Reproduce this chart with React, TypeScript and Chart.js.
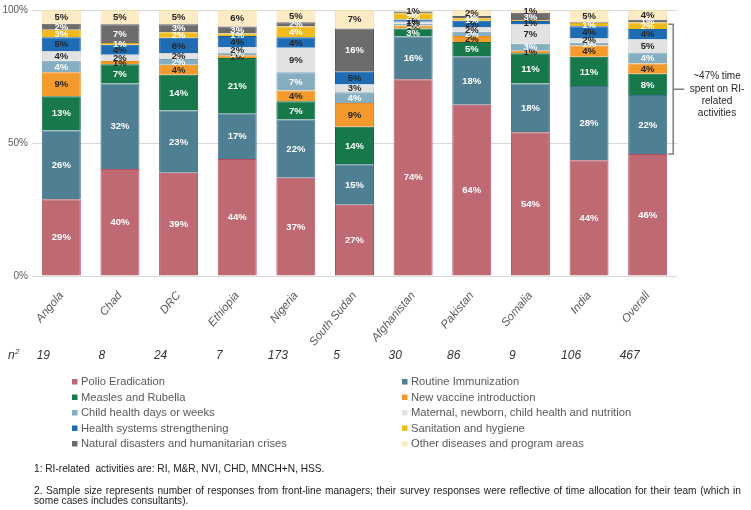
import React, { useEffect, useRef } from "react";
import { Chart, registerables } from "chart.js";
Chart.register(...registerables);

const categories = ["Angola", "Chad", "DRC", "Ethiopia", "Nigeria", "South Sudan", "Afghanistan", "Pakistan", "Somalia", "India", "Overall"];
const sampleSizes = [19, 8, 24, 7, 173, 5, 30, 86, 9, 106, 467];

const polio = [28.9, 40.2, 38.8, 44, 36.9, 26.8, 74, 64.4, 54, 43.5, 45.9];
const routineImm = [25.8, 32.2, 23.4, 17.2, 21.9, 15.2, 16, 18.2, 18.4, 27.9, 22.1];
const measles = [12.9, 7.2, 13.5, 20.8, 6.9, 14.1, 3, 5.4, 11.3, 11, 8];
const newVaccine = [9, 1.2, 3.7, 1, 4.0, 8.9, 1.2, 2.2, 1.0, 4.3, 3.9];
const childHealthDays = [4.3, 0, 2.2, 1, 6.9, 4.1, 0.6, 1.6, 2.6, 1, 4.1];
const mnch = [3.7, 2.4, 2.2, 2, 9.2, 2.9, 0.8, 1.8, 7.4, 1.8, 4.9];
const hss = [5.2, 3.7, 5.8, 4.2, 4.0, 4.8, 0.8, 2.4, 1.2, 4.4, 4];
const sanitation = [2.8, 0.7, 2.0, 1, 4.0, 0, 2.4, 0.9, 0.3, 1.2, 2.4];
const disasters = [2.2, 7, 3, 2.6, 1.6, 16.2, 0.6, 0.8, 2.8, 0.3, 1.0];
const otherAreas = [5.2, 5.4, 5.4, 6.2, 4.6, 7, 0.6, 2.3, 1.0, 4.6, 3.7];

const seriesNames = [
  "Polio Eradication",
  "Routine Immunization",
  "Measles and Rubella",
  "New vaccine introduction",
  "Child health days or weeks",
  "Maternal, newborn, child health and nutrition",
  "Health systems strengthening",
  "Sanitation and hygiene",
  "Natural disasters and humanitarian crises",
  "Other diseases and program areas",
];
const seriesData = [polio, routineImm, measles, newVaccine, childHealthDays, mnch, hss, sanitation, disasters, otherAreas];
const seriesColors = ["#bf6a73", "#4f7f93", "#17784a", "#f49a2c", "#86aec1", "#e2e2e2", "#1d6cb4", "#f0bb18", "#6e6b6b", "#fcebc4"];
const seriesBorders = ["#b34e5e", "#3c7189", "#136a40", "#e98a1c", "#76a0b4", "#d4d4d4", "#185fa0", "#e0ac10", "#5e5b5b", "#f3deb0"];
const seriesLabelColors = ["#ffffff", "#ffffff", "#ffffff", "#262626", "#ffffff", "#262626", "#262626", "#ffffff", "#ffffff", "#262626"];

const bracketRange = [45.9, 94.6];
const bracketText = ["~47% time", "spent on RI-", "related", "activities"];
const footnote1 = "1: RI-related  activities are: RI, M&R, NVI, CHD, MNCH+N, HSS.";
const footnote2a = "2. Sample size represents number of responses from front-line managers; their survey responses were reflective of time allocation for their team (which in";
const footnote2b = "some cases includes consultants).";

const FONT = "'Liberation Sans', Arial, sans-serif";

const overlayPlugin = {
  id: "overlay",
  afterDatasetsDraw(chart: any) {
    const ctx = chart.ctx;
    ctx.save();
    ctx.font = `bold 9.5px ${FONT}`;
    ctx.textAlign = "center";
    ctx.textBaseline = "middle";
    chart.data.datasets.forEach((ds: any, di: number) => {
      const meta = chart.getDatasetMeta(di);
      meta.data.forEach((el: any, i: number) => {
        const v = ds.data[i];
        if (v < 0.5) return;
        const y = (el.y + el.base) / 2;
        ctx.fillStyle = seriesLabelColors[di];
        ctx.fillText(Math.round(v) + "%", el.x, y + 0.5);
      });
    });
    ctx.restore();
  },
  afterDraw(chart: any) {
    const ctx = chart.ctx;
    const xs = chart.scales.x;
    const ys = chart.scales.y;
    ctx.save();

    // bracket on the last bar
    const last = categories.length - 1;
    const el = chart.getDatasetMeta(0).data[last];
    const right = el.x + el.width / 2;
    const yTop = ys.getPixelForValue(bracketRange[1]);
    const yBot = ys.getPixelForValue(bracketRange[0]);
    const vx = right + 6;
    ctx.strokeStyle = "#7f7f7f";
    ctx.lineWidth = 1.5;
    ctx.beginPath();
    ctx.moveTo(right + 1, yTop);
    ctx.lineTo(vx, yTop);
    ctx.lineTo(vx, yBot);
    ctx.lineTo(right + 1, yBot);
    ctx.moveTo(vx, (yTop + yBot) / 2);
    ctx.lineTo(vx + 11, (yTop + yBot) / 2);
    ctx.stroke();
    ctx.fillStyle = "#262626";
    ctx.font = `10px ${FONT}`;
    ctx.textAlign = "center";
    ctx.textBaseline = "middle";
    const mid = (yTop + yBot) / 2;
    bracketText.forEach((t, i) => {
      ctx.fillText(t, 717, mid - 12.5 + i * 12.3);
    });

    // sample size row
    ctx.fillStyle = "#333333";
    ctx.font = `italic 12px ${FONT}`;
    ctx.textAlign = "left";
    ctx.textBaseline = "middle";
    ctx.fillText("n", 8, 356);
    ctx.font = `italic 8px ${FONT}`;
    ctx.fillText("2", 15, 352);
    ctx.font = `italic 12px ${FONT}`;
    ctx.textAlign = "center";
    sampleSizes.forEach((n, i) => {
      ctx.fillText(String(n), xs.getPixelForValue(i) - 18, 356);
    });

    // legend
    ctx.font = `11.2px ${FONT}`;
    ctx.textAlign = "left";
    ctx.textBaseline = "middle";
    seriesNames.forEach((name, i) => {
      const col = i % 2;
      const row = Math.floor(i / 2);
      const mx = col === 0 ? 72 : 402;
      const my = 382 + row * 15.5;
      ctx.fillStyle = seriesColors[i];
      ctx.fillRect(mx, my - 3, 5.5, 5.5);
      ctx.fillStyle = "#595959";
      ctx.fillText(name, mx + 9, my);
    });

    // footnotes (condensed, narrow-looking type)
    ctx.fillStyle = "#1a1a1a";
    ctx.font = `10.5px ${FONT}`;
    ctx.textAlign = "left";
    const words = footnote2a.split(" ");
    const target = 741 - 34;
    const spaceW = ctx.measureText(" ").width;
    const wsum = words.reduce((s, w) => s + ctx.measureText(w).width, 0);
    const natural = wsum + spaceW * 1.3 * (words.length - 1);
    const sx = Math.min(1, target / natural);
    const gap = (target / sx - wsum) / (words.length - 1);
    ctx.save();
    ctx.translate(34, 0);
    ctx.scale(sx, 1);
    ctx.fillText(footnote1, 0, 469);
    let cx = 0;
    words.forEach((w) => {
      ctx.fillText(w, cx, 491);
      cx += ctx.measureText(w).width + gap;
    });
    ctx.fillText(footnote2b, 0, 501);
    ctx.restore();
    ctx.restore();
  },
};

export default function App() {
  const ref = useRef<HTMLCanvasElement | null>(null);
  useEffect(() => {
    if (!ref.current) return;
    const chart = new Chart(ref.current, {
      type: "bar",
      data: {
        labels: categories,
        datasets: seriesNames.map((name, i) => ({
          label: name,
          data: seriesData[i],
          backgroundColor: seriesColors[i],
          borderColor: seriesBorders[i],
          borderWidth: 1,
          categoryPercentage: 1,
          barPercentage: 0.665,
        })),
      },
      options: {
        responsive: false,
        animation: false,
        layout: { padding: { top: 5, right: 74, left: 0, bottom: 0 } },
        plugins: { legend: { display: false }, tooltip: { enabled: false } },
        scales: {
          x: {
            stacked: true,
            grid: { display: false },
            border: { display: false },
            ticks: {
              autoSkip: false,
              minRotation: 50,
              maxRotation: 50,
              color: "#595959",
              font: { family: FONT, size: 11.5, style: "italic" },
              padding: 5,
            },
            afterFit: (scale: any) => {
              scale.height = 234;
            },
          },
          y: {
            stacked: true,
            min: 0,
            max: 100,
            ticks: {
              stepSize: 50,
              color: "#595959",
              font: { family: FONT, size: 10 },
              padding: 4,
              callback: (v: any) => v + "%",
            },
            grid: { color: "#d9d9d9", drawTicks: false, lineWidth: 1 },
            border: { display: false },
            afterFit: (scale: any) => {
              scale.width = 32;
            },
          },
        },
      },
      plugins: [overlayPlugin],
    });
    return () => chart.destroy();
  }, []);
  return (
    <div style={{ position: "absolute", left: 0, top: 0, width: 751, height: 510, background: "#fff" }}>
      <canvas ref={ref} width={751} height={510} style={{ display: "block" }} />
    </div>
  );
}
